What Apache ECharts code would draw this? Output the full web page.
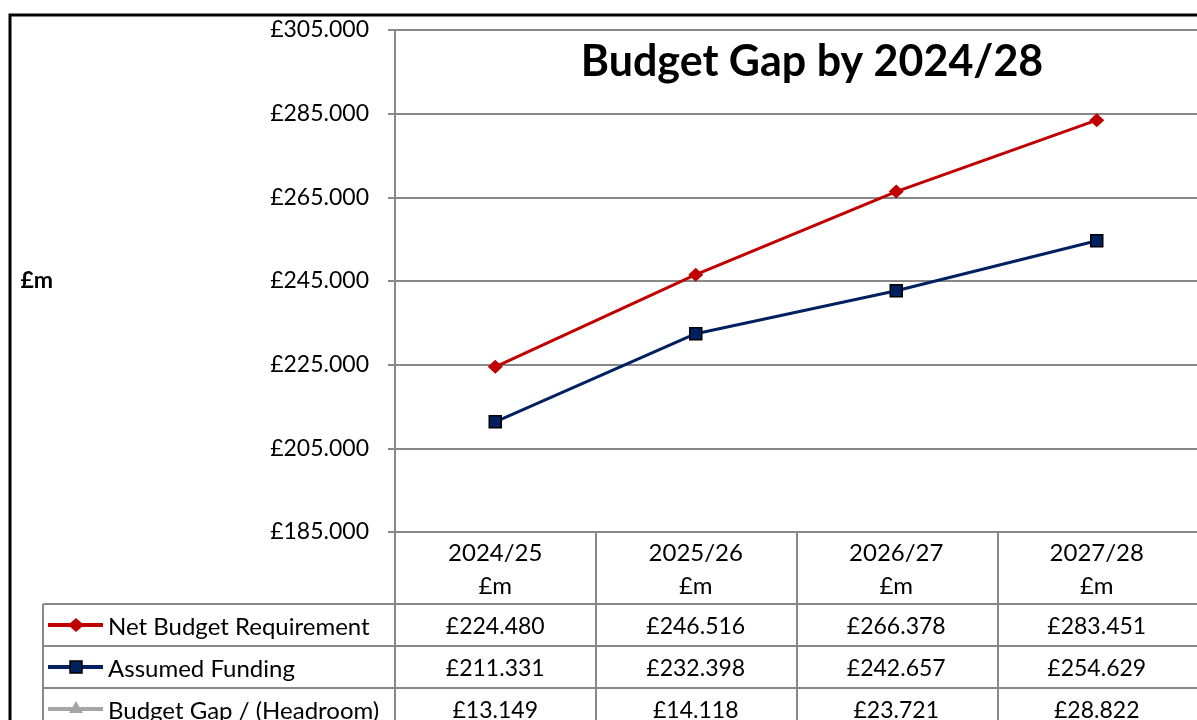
<!DOCTYPE html>
<html><head><meta charset="utf-8">
<script src="https://cdn.jsdelivr.net/npm/echarts@6/dist/echarts.min.js"></script>
<style>html,body{margin:0;padding:0;background:#fff}#c{width:1197px;height:720px}</style>
</head><body><div id="c"></div>
<script>
const categories = ['2024/25', '2025/26', '2026/27', '2027/28'];
const unitLabel = '£m';
const seriesNames = ['Net Budget Requirement', 'Assumed Funding', 'Budget Gap / (Headroom)'];
const netBudget = [224.480, 246.516, 266.378, 283.451];
const funding = [211.331, 232.398, 242.657, 254.629];
const budgetGap = [13.149, 14.118, 23.721, 28.822];
const yMin = 185, yMax = 305, yStep = 20;
const titleText = 'Budget Gap by 2024/28';

const chart = echarts.init(document.getElementById('c'));
const GRID = {left: 395, top: 30, width: 804, height: 502};
const lineCol = '#888888';
const calibri = 'Lato, "Open Sans", sans-serif';
const colors = ['#C00000', '#002060', '#A6A6A6'];

const option = {
  animation: false,
  backgroundColor: '#fff',
  title: {text: titleText, left: 807, top: 36, textAlign: 'center',
    textStyle: {fontFamily: calibri, fontWeight: 'bold', fontSize: 43, color: '#000'}},
  grid: GRID,
  xAxis: {type: 'category', data: categories, boundaryGap: true,
    axisLine: {lineStyle: {color: lineCol, width: 2}},
    axisTick: {show: false},
    axisLabel: {formatter: v => v + '\n' + unitLabel, margin: 5, lineHeight: 33,
      fontFamily: calibri, fontSize: 24, color: '#000'}},
  yAxis: {type: 'value', min: yMin, max: yMax, interval: yStep,
    name: unitLabel, nameLocation: 'middle', nameRotate: 0, nameGap: 342,
    nameTextStyle: {fontFamily: calibri, fontWeight: 'bold', fontSize: 23, color: '#000'},
    axisLine: {show: true, lineStyle: {color: lineCol, width: 2}},
    axisTick: {show: true, length: 7, lineStyle: {color: lineCol, width: 2}},
    splitLine: {lineStyle: {color: lineCol, width: 2}},
    axisLabel: {formatter: v => '£' + v.toFixed(3), margin: 26, fontFamily: calibri, fontSize: 23, color: '#000'}},
  series: [
    {name: seriesNames[0], type: 'line', data: netBudget, clip: true,
      symbol: 'diamond', symbolSize: [15, 14], itemStyle: {color: colors[0]},
      lineStyle: {color: colors[0], width: 3}},
    {name: seriesNames[1], type: 'line', data: funding, clip: true,
      symbol: 'rect', symbolSize: 12, itemStyle: {color: colors[1], borderColor: '#000', borderWidth: 1.5},
      lineStyle: {color: colors[1], width: 3}},
    {name: seriesNames[2], type: 'line', data: budgetGap, clip: true,
      symbol: 'triangle', symbolSize: 13, itemStyle: {color: colors[2]},
      lineStyle: {color: colors[2], width: 3}}
  ]
};
chart.setOption(option);

// Data table built from the axis scale positions
const band = GRID.width / categories.length;
const centers = categories.map((c, i) => chart.convertToPixel({xAxisIndex: 0}, i));
const bounds = [GRID.left];
categories.forEach((c, i) => bounds.push(GRID.left + band * (i + 1)));
const headerTop = GRID.top + GRID.height;
const rowTop = headerTop + 72, rowH = 42, tableLeft = 43;
const rows = [netBudget, funding, budgetGap];
const g = [];
const ln = (x1, y1, x2, y2, c, w) => ({type: 'line', shape: {x1, y1, x2, y2}, style: {stroke: c, lineWidth: w}});
g.push({type: 'rect', shape: {x: 10, y: 15, width: 1400, height: 1000}, style: {fill: 'none', stroke: '#000', lineWidth: 3}, z: 100});
bounds.forEach(x => g.push(ln(x, headerTop, x, 740, lineCol, 2)));
g.push(ln(tableLeft, rowTop, tableLeft, 740, lineCol, 2));
rows.forEach((r, k) => {
  const y = rowTop + k * rowH;
  const cy = y + rowH / 2;
  const ty = cy + 2;
  g.push(ln(tableLeft, y, 1210, y, lineCol, 2));
  r.forEach((v, i) => g.push({type: 'text', x: centers[i], y: ty,
    style: {text: '£' + v.toFixed(3), fontFamily: calibri, fontSize: 23, fill: '#000', align: 'center', verticalAlign: 'middle'}}));
  // legend key
  const kx = 76;
  g.push(ln(48, cy, 103, cy, colors[k], 4));
  if (k === 0) g.push({type: 'polygon', shape: {points: [[kx - 8, cy], [kx, cy - 7], [kx + 8, cy], [kx, cy + 7]]}, style: {fill: colors[0]}});
  if (k === 1) g.push({type: 'rect', shape: {x: kx - 6, y: cy - 6, width: 12, height: 12}, style: {fill: colors[1], stroke: '#000', lineWidth: 1.5}});
  if (k === 2) g.push({type: 'polygon', shape: {points: [[kx - 7, cy + 4], [kx, cy - 8], [kx + 7, cy + 4]]}, style: {fill: colors[2]}});
  g.push({type: 'text', x: 108, y: ty, style: {text: seriesNames[k], fontFamily: calibri, fontSize: 24, fill: '#000', align: 'left', verticalAlign: 'middle'}});
});
chart.setOption({graphic: g});
</script></body></html>
